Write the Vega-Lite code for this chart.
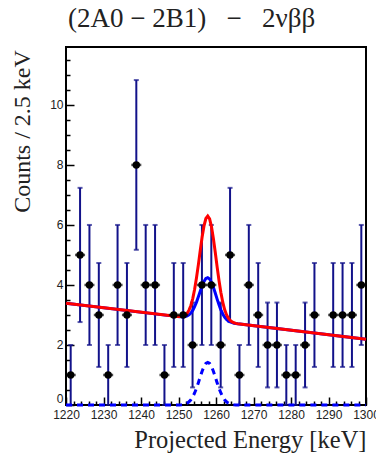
{
  "$schema": "https://vega.github.io/schema/vega-lite/v6.json",
  "autosize": {"type": "none"},
  "width": 300,
  "height": 358,
  "padding": {"left": 66, "top": 47, "right": 10, "bottom": 53},
  "background": "white",
  "title": {
    "text": "(2A0 − 2B1)\u2002 − \u20022νββ",
    "font": "Liberation Serif",
    "fontSize": 27,
    "fontWeight": "normal",
    "color": "#222222",
    "anchor": "start",
    "frame": "group",
    "baseline": "alphabetic",
    "offset": 19,
    "dx": 2,
    "dy": 26
  },
  "config": {
    "view": {"stroke": "black", "strokeWidth": 2},
    "axis": {"grid": false, "domain": false}
  },
  "resolve": {"axis": {"x": "independent", "y": "independent"}},
  "datasets": {
    "bins": [
      {"E": 1221.25, "n": 1, "lo": 0, "hi": 2},
      {"E": 1223.75, "n": 5, "lo": 2.764, "hi": 7.236},
      {"E": 1226.25, "n": 4, "lo": 2, "hi": 6},
      {"E": 1228.75, "n": 3, "lo": 1.268, "hi": 4.732},
      {"E": 1231.25, "n": 1, "lo": 0, "hi": 2},
      {"E": 1233.75, "n": 4, "lo": 2, "hi": 6},
      {"E": 1236.25, "n": 3, "lo": 1.268, "hi": 4.732},
      {"E": 1238.75, "n": 8, "lo": 5.172, "hi": 10.828},
      {"E": 1241.25, "n": 4, "lo": 2, "hi": 6},
      {"E": 1243.75, "n": 4, "lo": 2, "hi": 6},
      {"E": 1246.25, "n": 1, "lo": 0, "hi": 2},
      {"E": 1248.75, "n": 3, "lo": 1.268, "hi": 4.732},
      {"E": 1251.25, "n": 3, "lo": 1.268, "hi": 4.732},
      {"E": 1253.75, "n": 2, "lo": 0.586, "hi": 3.414},
      {"E": 1256.25, "n": 4, "lo": 2, "hi": 6},
      {"E": 1258.75, "n": 4, "lo": 2, "hi": 6},
      {"E": 1261.25, "n": 2, "lo": 0.586, "hi": 3.414},
      {"E": 1263.75, "n": 5, "lo": 2.764, "hi": 7.236},
      {"E": 1266.25, "n": 1, "lo": 0, "hi": 2},
      {"E": 1268.75, "n": 4, "lo": 2, "hi": 6},
      {"E": 1271.25, "n": 3, "lo": 1.268, "hi": 4.732},
      {"E": 1273.75, "n": 2, "lo": 0.586, "hi": 3.414},
      {"E": 1276.25, "n": 2, "lo": 0.586, "hi": 3.414},
      {"E": 1278.75, "n": 1, "lo": 0, "hi": 2},
      {"E": 1281.25, "n": 1, "lo": 0, "hi": 2},
      {"E": 1283.75, "n": 2, "lo": 0.586, "hi": 3.414},
      {"E": 1286.25, "n": 3, "lo": 1.268, "hi": 4.732},
      {"E": 1288.75, "n": 0, "lo": 0, "hi": 0},
      {"E": 1291.25, "n": 3, "lo": 1.268, "hi": 4.732},
      {"E": 1293.75, "n": 3, "lo": 1.268, "hi": 4.732},
      {"E": 1296.25, "n": 3, "lo": 1.268, "hi": 4.732},
      {"E": 1298.75, "n": 4, "lo": 2, "hi": 6}
    ],
    "fit": [
      {"E": 1220, "total": 3.39, "partial": 3.39, "component": 0},
      {"E": 1249.8, "total": 2.948, "partial": 2.945, "component": 0.002},
      {"E": 1250.3, "total": 2.946, "partial": 2.94, "component": 0.004},
      {"E": 1250.8, "total": 2.95, "partial": 2.937, "component": 0.009},
      {"E": 1251.3, "total": 2.965, "partial": 2.939, "component": 0.018},
      {"E": 1251.8, "total": 2.997, "partial": 2.948, "component": 0.035},
      {"E": 1252.3, "total": 3.058, "partial": 2.968, "component": 0.062},
      {"E": 1252.8, "total": 3.16, "partial": 3.005, "component": 0.107},
      {"E": 1253.3, "total": 3.317, "partial": 3.065, "component": 0.175},
      {"E": 1253.8, "total": 3.546, "partial": 3.154, "component": 0.271},
      {"E": 1254.3, "total": 3.854, "partial": 3.276, "component": 0.4},
      {"E": 1254.8, "total": 4.239, "partial": 3.429, "component": 0.561},
      {"E": 1255.3, "total": 4.679, "partial": 3.605, "component": 0.744},
      {"E": 1255.8, "total": 5.15, "partial": 3.793, "component": 0.94},
      {"E": 1256.3, "total": 5.597, "partial": 3.972, "component": 1.126},
      {"E": 1256.8, "total": 5.968, "partial": 4.119, "component": 1.281},
      {"E": 1257.3, "total": 6.214, "partial": 4.215, "component": 1.385},
      {"E": 1257.8, "total": 6.293, "partial": 4.243, "component": 1.42},
      {"E": 1258.3, "total": 6.199, "partial": 4.2, "component": 1.385},
      {"E": 1258.8, "total": 5.938, "partial": 4.089, "component": 1.281},
      {"E": 1259.3, "total": 5.552, "partial": 3.927, "component": 1.126},
      {"E": 1259.8, "total": 5.09, "partial": 3.733, "component": 0.94},
      {"E": 1260.3, "total": 4.604, "partial": 3.53, "component": 0.744},
      {"E": 1260.8, "total": 4.149, "partial": 3.339, "component": 0.561},
      {"E": 1261.3, "total": 3.749, "partial": 3.171, "component": 0.4},
      {"E": 1261.8, "total": 3.426, "partial": 3.034, "component": 0.271},
      {"E": 1262.3, "total": 3.182, "partial": 2.931, "component": 0.175},
      {"E": 1262.8, "total": 3.01, "partial": 2.855, "component": 0.107},
      {"E": 1263.3, "total": 2.893, "partial": 2.803, "component": 0.062},
      {"E": 1263.8, "total": 2.817, "partial": 2.768, "component": 0.035},
      {"E": 1264.3, "total": 2.77, "partial": 2.744, "component": 0.018},
      {"E": 1264.8, "total": 2.74, "partial": 2.727, "component": 0.009},
      {"E": 1265.3, "total": 2.721, "partial": 2.715, "component": 0.004},
      {"E": 1265.8, "total": 2.708, "partial": 2.705, "component": 0.002},
      {"E": 1300, "total": 2.19, "partial": 2.19, "component": 0}
    ]
  },
  "layer": [
    {
      "data": {"name": "bins"},
      "transform": [{"filter": "datum.n > 0"}],
      "mark": {"type": "rule", "color": "#12128a", "strokeWidth": 2},
      "encoding": {
        "x": {
          "field": "E",
          "type": "quantitative",
          "scale": {"domain": [1220, 1300], "nice": false, "zero": false},
          "axis": {
            "orient": "bottom",
            "title": "Projected Energy [keV]",
            "values": [1220, 1230, 1240, 1250, 1260, 1270, 1280, 1290, 1300],
            "format": "d",
            "labelOverlap": false,
            "labelFlush": false,
            "labelFont": "Liberation Sans",
            "labelFontSize": 12,
            "labelColor": "#222222",
            "labelPadding": 12,
            "tickColor": "black",
            "tickWidth": 1.5,
            "tickSize": -8,
            "titleFont": "Liberation Serif",
            "titleFontSize": 24.5,
            "titleFontWeight": "normal",
            "titleColor": "#222222",
            "titleX": 300,
            "titleY": 35,
            "titleAlign": "right",
            "titleAnchor": "end",
            "titleBaseline": "middle"
          }
        },
        "y": {
          "field": "lo",
          "type": "quantitative",
          "scale": {"domain": [0, 11.93], "nice": false, "zero": true},
          "axis": {
            "orient": "left",
            "title": "Counts / 2.5 keV",
            "values": [0, 2, 4, 6, 8, 10],
            "format": "d",
            "labelOverlap": false,
            "labelFlush": true,
            "labelFont": "Liberation Sans",
            "labelFontSize": 12,
            "labelColor": "#222222",
            "labelPadding": 11,
            "tickColor": "black",
            "tickWidth": 1.5,
            "tickSize": -8,
            "titleFont": "Liberation Serif",
            "titleFontSize": 24,
            "titleFontWeight": "normal",
            "titleColor": "#222222",
            "titleX": -44,
            "titleY": 84,
            "titleAngle": -90,
            "titleAlign": "center",
            "titleBaseline": "middle"
          }
        },
        "y2": {"field": "hi"}
      }
    },
    {
      "data": {"name": "bins"},
      "transform": [{"filter": "datum.n > 0"}],
      "mark": {"type": "tick", "orient": "horizontal", "color": "#12128a", "size": 5, "thickness": 2},
      "encoding": {
        "x": {
          "field": "E",
          "type": "quantitative",
          "axis": {
            "orient": "bottom",
            "title": null,
            "labels": false,
            "values": [1222, 1224, 1226, 1228, 1232, 1234, 1236, 1238, 1242, 1244, 1246, 1248, 1252, 1254, 1256, 1258, 1262, 1264, 1266, 1268, 1272, 1274, 1276, 1278, 1282, 1284, 1286, 1288, 1292, 1294, 1296, 1298],
            "tickColor": "black",
            "tickWidth": 1.5,
            "tickSize": -4
          }
        },
        "y": {
          "field": "hi",
          "type": "quantitative",
          "axis": {
            "orient": "left",
            "title": null,
            "labels": false,
            "values": [0.5, 1, 1.5, 2.5, 3, 3.5, 4.5, 5, 5.5, 6.5, 7, 7.5, 8.5, 9, 9.5, 10.5, 11, 11.5],
            "tickColor": "black",
            "tickWidth": 1.5,
            "tickSize": -4
          }
        }
      }
    },
    {
      "data": {"name": "bins"},
      "transform": [{"filter": "datum.n > 0"}],
      "mark": {"type": "tick", "orient": "horizontal", "color": "#12128a", "size": 5, "thickness": 2},
      "encoding": {
        "x": {"field": "E", "type": "quantitative", "axis": null},
        "y": {"field": "lo", "type": "quantitative", "axis": null}
      }
    },
    {
      "data": {"name": "fit"},
      "mark": {"type": "line", "color": "#0000ff", "strokeWidth": 3, "strokeDash": [6, 5]},
      "encoding": {
        "x": {"field": "E", "type": "quantitative", "axis": null},
        "y": {"field": "component", "type": "quantitative", "axis": null}
      }
    },
    {
      "data": {"name": "fit"},
      "mark": {"type": "line", "color": "#0000ff", "strokeWidth": 3},
      "encoding": {
        "x": {"field": "E", "type": "quantitative", "axis": null},
        "y": {"field": "partial", "type": "quantitative", "axis": null}
      }
    },
    {
      "data": {"name": "fit"},
      "mark": {"type": "line", "color": "#ff0000", "strokeWidth": 3},
      "encoding": {
        "x": {"field": "E", "type": "quantitative", "axis": null},
        "y": {"field": "total", "type": "quantitative", "axis": null}
      }
    },
    {
      "data": {"name": "bins"},
      "transform": [{"filter": "datum.n > 0"}],
      "mark": {"type": "tick", "orient": "horizontal", "color": "black", "size": 10, "thickness": 2.5},
      "encoding": {
        "x": {"field": "E", "type": "quantitative", "axis": null},
        "y": {"field": "n", "type": "quantitative", "axis": null}
      }
    },
    {
      "data": {"name": "bins"},
      "transform": [{"filter": "datum.n > 0"}],
      "mark": {"type": "point", "filled": true, "color": "black", "opacity": 1, "size": 55},
      "encoding": {
        "x": {"field": "E", "type": "quantitative", "axis": null},
        "y": {"field": "n", "type": "quantitative", "axis": null}
      }
    }
  ]
}
